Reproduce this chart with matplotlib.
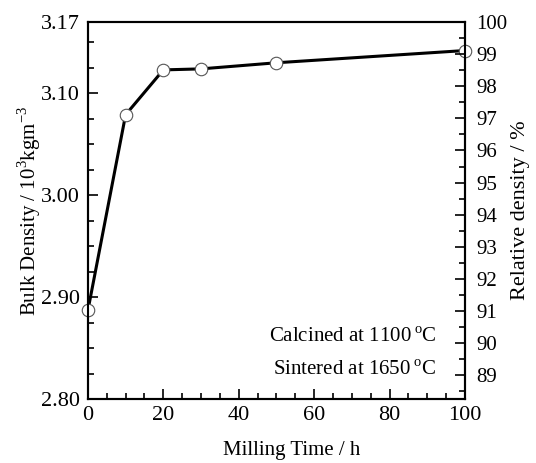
import matplotlib
matplotlib.use("Agg")
import matplotlib.pyplot as plt
from matplotlib.ticker import MultipleLocator, FixedLocator

plt.rcParams['font.family'] = ['Liberation Serif', 'DejaVu Serif']
plt.rcParams['mathtext.fontset'] = 'custom'
plt.rcParams['mathtext.rm'] = 'Liberation Serif'

milling_time = [0, 10, 20, 30, 50, 100]
bulk_density = [2.887, 3.079, 3.123, 3.124, 3.130, 3.142]
left_ticks = [2.80, 2.90, 3.00, 3.10, 3.17]
left_labels = ["2.80", "2.90", "3.00", "3.10", "3.17"]
right_ticks = list(range(89, 101))

fig = plt.figure(figsize=(5.36, 4.63), dpi=100)
ax = fig.add_axes([0.164, 0.138, 0.7035, 0.8145])
ax.plot(milling_time, bulk_density, color='black', lw=2.2, marker='o',
        markersize=9, markerfacecolor='white', markeredgecolor='#555555',
        markeredgewidth=0.8, clip_on=False, zorder=3)
ax.set_xlim(0, 100)
ax.set_ylim(2.80, 3.17)
ax.xaxis.set_major_locator(MultipleLocator(20))
ax.xaxis.set_minor_locator(MultipleLocator(5))
ax.yaxis.set_major_locator(FixedLocator(left_ticks))
ax.set_yticklabels(left_labels)
ax.yaxis.set_minor_locator(MultipleLocator(0.025))
ax.tick_params(which='both', direction='in', width=1.2, labelsize=16, top=False, right=False)
ax.tick_params(which='major', length=7)
ax.tick_params(which='minor', length=4)
ax.tick_params(axis='y', pad=6)
ax.tick_params(axis='x', pad=5)
for s in ax.spines.values():
    s.set_linewidth(1.5)

ax2 = ax.twinx()
ax2.set_ylim(88.26, 100)
ax2.yaxis.set_major_locator(FixedLocator(right_ticks))
ax2.yaxis.set_minor_locator(MultipleLocator(0.5))
ax2.tick_params(which='both', direction='in', width=1.2, labelsize=15, pad=8)
ax2.tick_params(which='major', length=7)
ax2.tick_params(which='minor', length=4)
for s in ax2.spines.values():
    s.set_linewidth(1.5)

ax.set_xlabel("Milling Time / h", fontsize=15)
ax.xaxis.set_label_coords(0.54, -0.11)
ax.set_ylabel(r"Bulk Density / 10$^{3}$kgm$^{-3}$", fontsize=15)
ax.yaxis.set_label_coords(-0.12, 0.5)
ax2.set_ylabel("Relative density / %", fontsize=16)
ax2.yaxis.set_label_coords(1.122, 0.5)

ax.text(0.924, 0.152, "Calcined at 1100$\\,^{\\rm o}$C", transform=ax.transAxes,
        ha='right', va='baseline', fontsize=15)
ax.text(0.924, 0.064, "Sintered at 1650$\\,^{\\rm o}$C", transform=ax.transAxes,
        ha='right', va='baseline', fontsize=15)

fig.savefig("out.png", dpi=100)
